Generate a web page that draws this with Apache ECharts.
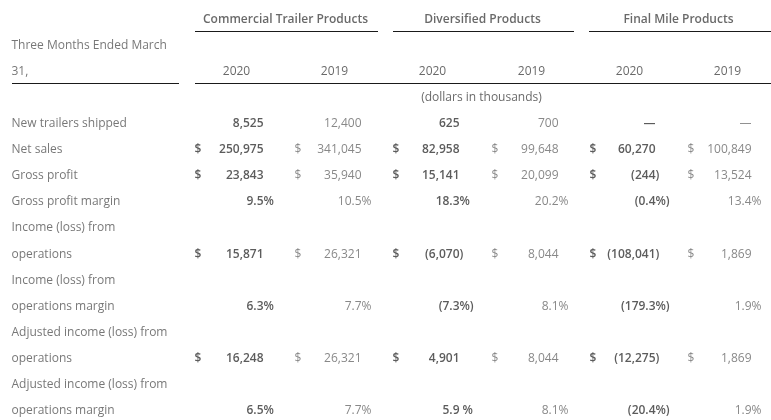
<!DOCTYPE html>
<html>
<head>
<meta charset="utf-8">
<script src="https://cdn.jsdelivr.net/npm/echarts@6/dist/echarts.min.js"></script>
<style>
html,body{margin:0;padding:0;background:#fff;}
#chart{width:771px;height:420px;}
</style>
</head>
<body>
<div id="chart"></div>
<script>
// ---------- DATA ----------
const groups = ["Commercial Trailer Products", "Diversified Products", "Final Mile Products"];
const years = ["2020", "2019"];
const periodLabel = ["Three Months Ended March", "31,"];
const unitNote = "(dollars in thousands)";
const rowLabels = [
  "New trailers shipped", "Net sales", "Gross profit", "Gross profit margin",
  "Income (loss) from", "operations", "Income (loss) from", "operations margin",
  "Adjusted income (loss) from", "operations", "Adjusted income (loss) from", "operations margin"
];
const ctp2020 = ["8,525", "250,975", "23,843", "9.5%", null, "15,871", null, "6.3%", null, "16,248", null, "6.5%"];
const ctp2019 = ["12,400", "341,045", "35,940", "10.5%", null, "26,321", null, "7.7%", null, "26,321", null, "7.7%"];
const div2020 = ["625", "82,958", "15,141", "18.3%", null, "(6,070)", null, "(7.3%)", null, "4,901", null, "5.9 %"];
const div2019 = ["700", "99,648", "20,099", "20.2%", null, "8,044", null, "8.1%", null, "8,044", null, "8.1%"];
const fm2020 = ["—", "60,270", "(244)", "(0.4%)", null, "(108,041)", null, "(179.3%)", null, "(12,275)", null, "(20.4%)"];
const fm2019 = ["—", "100,849", "13,524", "13.4%", null, "1,869", null, "1.9%", null, "1,869", null, "1.9%"];
const dollarRows = [false, true, true, false, false, true, false, false, false, true, false, false];

// ---------- LAYOUT ----------
const columns = [ctp2020, ctp2019, div2020, div2019, fm2020, fm2019];
const L = {
  labelX: 12,
  groupCenter: [286, 483, 679],
  yearCenter: [237, 335, 433, 532, 630, 728],
  numRight: [264, 362, 460, 559, 656, 752],
  dollarX: [195, 295, 393, 492, 590, 688],
  groupLine: [[195, 378], [393, 574], [589, 771]],
  headLine: [[12, 179], [195, 771]],
  groupLineRow: 0.56,
  headLineRow: 2.53,
  noteX: 482,
  groupRow: 0, periodRow: 1, yearRow: 2, noteRow: 3, dataRow: 4
};
const FONT = "'Open Sans', sans-serif";

function splitVal(s) {
  const m = s.match(/^(.*?)([\s%)]+)$/);
  if (m) return [m[1], m[2]];
  return [s, ""];
}

const headerCells = [];
groups.forEach((g, i) => headerCells.push([L.groupCenter[i], L.groupRow, g, 'center']));
const yearCells = [];
L.yearCenter.forEach((x, i) => yearCells.push([x, L.yearRow, years[i % 2], 'center']));
yearCells.push([L.noteX, L.noteRow, unitNote, 'center']);

const labelCells = [];
periodLabel.forEach((t, i) => labelCells.push([L.labelX, L.periodRow + i, t, 'left']));
rowLabels.forEach((t, i) => labelCells.push([L.labelX, L.dataRow + i, t, 'left']));

const boldCells = [], lightCells = [];
columns.forEach((col, c) => {
  const target = (c % 2 === 0) ? boldCells : lightCells;
  col.forEach((v, r) => {
    if (v == null) return;
    const row = L.dataRow + r;
    const [core, suf] = splitVal(v);
    target.push([L.numRight[c], row, core, 'right']);
    if (suf) target.push([L.numRight[c], row, suf, 'left']);
    if (dollarRows[r]) target.push([L.dollarX[c], row, '$', 'left']);
  });
});

function textSeries(data, color, weight) {
  return {
    type: 'scatter',
    symbolSize: 1,
    silent: true,
    itemStyle: { color: 'rgba(0,0,0,0)' },
    data: data.map(d => ({
      value: [d[0], d[1]],
      label: { formatter: d[2], align: d[3] }
    })),
    label: {
      show: true,
      position: [0, 0],
      offset: [0, 3],
      verticalAlign: 'middle',
      color: color,
      fontFamily: FONT,
      fontSize: 12,
      fontWeight: weight
    }
  };
}

const lineData = [];
L.groupLine.forEach(s => lineData.push([{ coord: [s[0], L.groupLineRow] }, { coord: [s[1], L.groupLineRow] }]));
L.headLine.forEach(s => lineData.push([{ coord: [s[0], L.headLineRow] }, { coord: [s[1], L.headLineRow] }]));

const hdr = textSeries(headerCells, '#444', 600);
hdr.markLine = {
  silent: true,
  symbol: 'none',
  label: { show: false },
  lineStyle: { color: '#1a1a1a', width: 1, type: 'solid' },
  data: lineData
};

const chart = echarts.init(document.getElementById('chart'), null, { renderer: 'canvas' });
chart.setOption({
  animation: false,
  backgroundColor: '#fff',
  grid: { left: 0, right: 0, top: 17, bottom: 12 },
  xAxis: { type: 'value', min: 0, max: 771, show: false },
  yAxis: { type: 'value', min: 0, max: 15, inverse: true, show: false },
  series: [
    hdr,
    textSeries(yearCells, '#444', 400),
    textSeries(labelCells, '#555', 400),
    textSeries(boldCells, '#333', 600),
    textSeries(lightCells, '#6a6a6a', 400)
  ]
});
</script>
</body>
</html>
